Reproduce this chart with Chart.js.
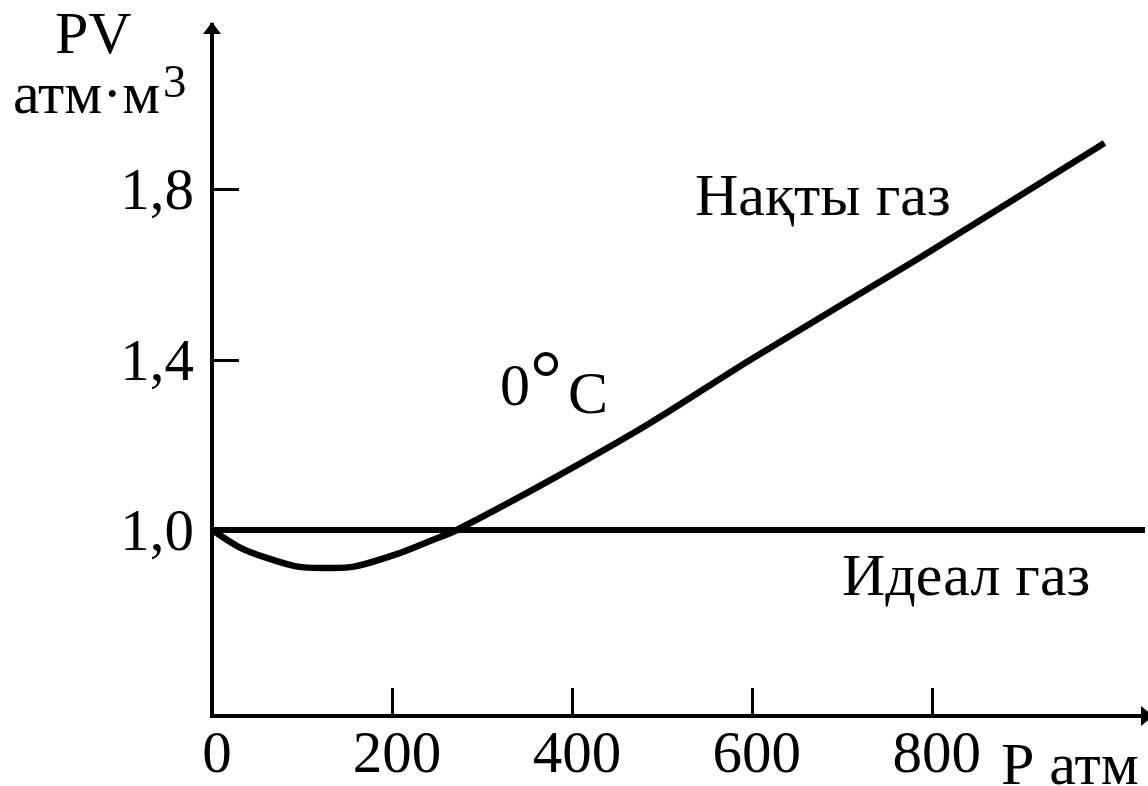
<!DOCTYPE html>
<html>
<head>
<meta charset="utf-8">
<script src="https://cdn.jsdelivr.net/npm/chart.js@4.4.1/dist/chart.umd.min.js"></script>
<style>
  html, body { margin: 0; padding: 0; background: #fff; }
  canvas { display: block; }
</style>
</head>
<body>
<canvas id="pvChart" width="1148" height="786"></canvas>
<script>
const realPressure = [0, 30, 60, 95, 125, 158, 209, 246, 272, 376, 487, 598, 783, 992];
const realPV = [1.0, 0.96, 0.935, 0.914, 0.911, 0.914, 0.946, 0.977, 1.0, 1.117, 1.251, 1.399, 1.634, 1.908];

// Ideal gas: PV stays constant
const idealPressure = [0, 1037];
const idealPV = [1.0, 1.0];

// Axis ticks
const xTicks = [0, 200, 400, 600, 800];
const yTicks = [1.0, 1.4, 1.8];
const yTickLabels = ['1,0', '1,4', '1,8'];

const serif = '"Liberation Serif", "Times New Roman", serif';

// Inner tick marks, arrow heads and all text
const axesDecor = {
    id: 'axesDecor',
    afterDraw(chart) {
        const { ctx, chartArea, scales: { x, y } } = chart;
        ctx.save();
        ctx.strokeStyle = '#000';
        ctx.fillStyle = '#000';

        // tick marks pointing into the plot
        ctx.lineWidth = 3;
        ctx.beginPath();
        xTicks.forEach(v => {
            if (v === 0) return;
            const px = Math.round(x.getPixelForValue(v)) + 0.5;
            ctx.moveTo(px, chartArea.bottom);
            ctx.lineTo(px, chartArea.bottom - 28);
        });
        yTicks.forEach(v => {
            const py = Math.round(y.getPixelForValue(v)) + 0.5;
            ctx.moveTo(chartArea.left, py);
            ctx.lineTo(chartArea.left + 27, py);
        });
        ctx.stroke();

        // arrow on the y axis
        ctx.beginPath();
        ctx.moveTo(chartArea.left, chartArea.top - 3);
        ctx.lineTo(chartArea.left - 9, chartArea.top + 9);
        ctx.lineTo(chartArea.left + 9, chartArea.top + 9);
        ctx.closePath();
        ctx.fill();

        // arrow on the x axis
        ctx.beginPath();
        ctx.moveTo(chartArea.right + 8, chartArea.bottom);
        ctx.lineTo(chartArea.right - 4, chartArea.bottom - 10);
        ctx.lineTo(chartArea.right - 4, chartArea.bottom + 10);
        ctx.closePath();
        ctx.fill();

        // tick labels
        ctx.textBaseline = 'alphabetic';
        ctx.font = '59px ' + serif;
        ctx.textAlign = 'center';
        xTicks.forEach(v => ctx.fillText(String(v), x.getPixelForValue(v) + 5, 772));
        ctx.textAlign = 'right';
        yTicks.forEach((v, i) => ctx.fillText(yTickLabels[i], 194, y.getPixelForValue(v) + 20));

        // axis titles
        ctx.textAlign = 'left';
        ctx.font = '60px ' + serif;
        ctx.fillText('PV', 55, 53);
        ctx.fillText('атм·м', 13, 113);
        ctx.font = '47px ' + serif;
        ctx.fillText('3', 163, 97);
        ctx.font = '60px ' + serif;
        ctx.fillText('P атм', 1001, 784);

        // curve annotations
        ctx.fillText('Нақты газ', 695, 215);
        ctx.fillText('Идеал газ', 842, 595);
        ctx.fillText('0', 500, 405);
        ctx.fillText('C', 568, 413);
        ctx.font = '80px ' + serif;
        ctx.fillText('°', 530, 405);

        ctx.restore();
    }
};

const ctx = document.getElementById('pvChart').getContext('2d');
const chart = new Chart(ctx, {
    type: 'line',
    data: {
        datasets: [{
            label: 'Нақты газ',
            data: realPressure.map((p, i) => ({ x: p, y: realPV[i] })),
            borderColor: '#000',
            borderWidth: 6.5,
            pointRadius: 0,
            tension: 0.3,
            fill: false
        }, {
            label: 'Идеал газ',
            data: idealPressure.map((p, i) => ({ x: p, y: idealPV[i] })),
            borderColor: '#000',
            borderWidth: 6,
            pointRadius: 0,
            fill: false
        }]
    },
    options: {
        responsive: false,
        animation: false,
        devicePixelRatio: 1,
        layout: {
            padding: { top: 25, right: 3, left: 0, bottom: 0 }
        },
        plugins: {
            legend: { display: false },
            tooltip: { enabled: false }
        },
        scales: {
            x: {
                type: 'linear',
                min: 0,
                max: 1037,
                grid: { display: false, drawTicks: false },
                ticks: { display: false },
                border: { display: true, color: '#000', width: 4 },
                afterFit: (scale) => { scale.height = 70; }
            },
            y: {
                type: 'linear',
                min: 0.5636,
                max: 2.1848,
                grid: { display: false, drawTicks: false },
                ticks: { display: false },
                border: { display: true, color: '#000', width: 4 },
                afterFit: (scale) => { scale.width = 212; }
            }
        }
    },
    plugins: [axesDecor]
});
</script>
</body>
</html>
